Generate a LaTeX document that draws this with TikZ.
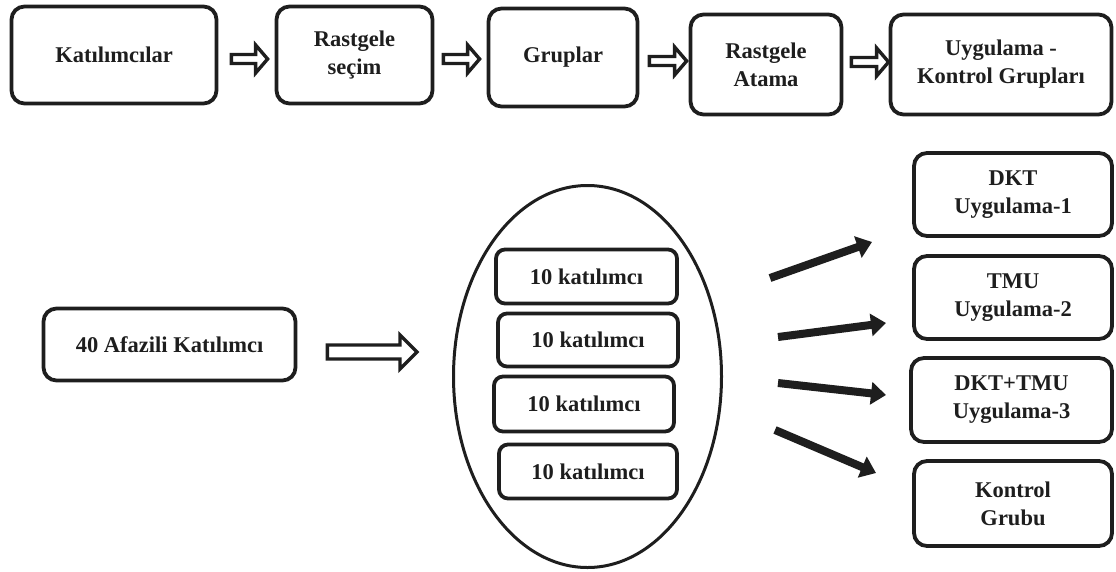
\documentclass[tikz,border=0pt]{standalone}
\usepackage{fontspec}
\setmainfont{Liberation Serif}
\usetikzlibrary{arrows.meta,shapes.geometric,calc}
\definecolor{ink}{HTML}{1E1E1E}
\tikzset{
  box/.style={draw=ink, line width=3.8pt, rounded corners=13pt, fill=white,
    align=center, inner sep=0pt, text=ink,
    font=\fontsize{22.5}{28}\selectfont\bfseries},
  hollow/.style={draw=ink, line width=3.4pt, fill=white, line join=miter},
  fat/.style={draw=ink, line width=8pt, -{Triangle[length=15pt,width=22pt]}},
}
% hollow block arrow: #1 start, #2 end, #3 shaft half-height, #4 head half-height, #5 head length
\newcommand\blockarrow[5]{%
  \draw[hollow] let \p1=#1, \p2=#2 in
    (\x1,\y1+#3) -- (\x2-#5,\y1+#3) -- (\x2-#5,\y1+#4) -- (\x2,\y1)
    -- (\x2-#5,\y1-#4) -- (\x2-#5,\y1-#3) -- (\x1,\y1-#3) -- cycle;}
\begin{document}
\begin{tikzpicture}[x=1pt,y=-1pt]
\useasboundingbox (0,0) rectangle (1116,571);

% process chain along the top
\node[box, minimum width=205, minimum height=97] (k1) at (114,55) {Katılımcılar};
\node[box, minimum width=156, minimum height=97] (k2) at (354.5,55) {Rastgele\\seçim};
\node[box, minimum width=149, minimum height=98] (k3) at (563,57.5) {Gruplar};
\node[box, minimum width=151, minimum height=100] (k4) at (766,64.5) {Rastgele\\Atama};
\node[box, minimum width=221, minimum height=100] (k5) at (1001,64.5) {Uygulama -\\Kontrol Grupları};

\blockarrow{($(k1.east)+(13,4)$)}{($(k2.west)+(-7,4)$)}{4.5pt}{14pt}{12pt}
\blockarrow{($(k2.east)+(9,4)$)}{($(k3.west)+(-7,1.5)$)}{4.5pt}{14pt}{12pt}
\blockarrow{($(k3.east)+(10,3.5)$)}{($(k4.west)+(-2,-3.5)$)}{4.5pt}{14pt}{12pt}
\blockarrow{($(k4.east)+(8,-2.5)$)}{($(k5.west)+(0,-2.5)$)}{4.5pt}{14pt}{12pt}

% study design
\node[box, minimum width=252, minimum height=72] (p) at (169.5,344.5) {40 Afazili Katılımcı};

\node[draw=ink, line width=3pt, ellipse, minimum width=268, minimum height=382, inner sep=0pt] (pool) at (587.5,376.5) {};

\node[box, minimum width=181, minimum height=54, rounded corners=9pt] (g1) at (586.5,276.5) {10 katılımcı};
\node[box, minimum width=180, minimum height=53, rounded corners=9pt] (g2) at (588,340) {10 katılımcı};
\node[box, minimum width=180, minimum height=55, rounded corners=9pt] (g3) at (584,404) {10 katılımcı};
\node[box, minimum width=178, minimum height=54, rounded corners=9pt] (g4) at (588,471.5) {10 katılımcı};

\blockarrow{($(p.east)+(30,7.5)$)}{($(pool.west)+(-35,-24.5)$)}{7pt}{17pt}{17pt}

\node[box, minimum width=198, minimum height=83] (r1) at (1013,194.5) {DKT\\Uygulama-1};
\node[box, minimum width=198, minimum height=83] (r2) at (1013,297.5) {TMU\\Uygulama-2};
\node[box, minimum width=201, minimum height=84] (r3) at (1011.5,400) {DKT+TMU\\Uygulama-3};
\node[box, minimum width=198, minimum height=85] (r4) at (1013,503.5) {Kontrol\\Grubu};

\coordinate (s1) at (770,278); \coordinate (e1) at (872,242);
\coordinate (s2) at (778,337); \coordinate (e2) at (886,323);
\coordinate (s3) at (778,383); \coordinate (e3) at (886,395);
\coordinate (s4) at (775,430); \coordinate (e4) at (876,473);
\draw[fat] (s1) -- (e1);
\draw[fat] (s2) -- (e2);
\draw[fat] (s3) -- (e3);
\draw[fat] (s4) -- (e4);
\end{tikzpicture}
\end{document}
